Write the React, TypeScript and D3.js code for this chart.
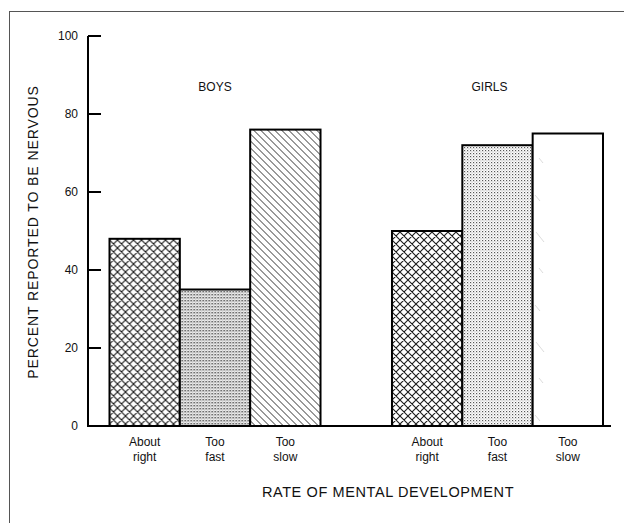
import React from "react";
import * as d3 from "d3";

const groups = ["BOYS", "GIRLS"];
const categories = ["About right", "Too fast", "Too slow"];
const categoryLines = [["About", "right"], ["Too", "fast"], ["Too", "slow"]];
const boysValues = [48, 35, 76];
const girlsValues = [50, 72, 75];
const yTicks = [0, 20, 40, 60, 80, 100];
const yLabel = "PERCENT REPORTED TO BE NERVOUS";
const xLabel = "RATE OF MENTAL DEVELOPMENT";

const W = 624;
const H = 523;

export default function App() {
  const y = d3.scaleLinear().domain([0, 100]).range([426, 36]);
  const xGroup = d3
    .scaleBand<string>()
    .domain(groups)
    .range([109.5, 603])
    .paddingInner(0.253)
    .paddingOuter(0);
  const xCat = d3
    .scaleBand<string>()
    .domain(categories)
    .range([0, xGroup.bandwidth()])
    .padding(0);
  const series = [boysValues, girlsValues];
  const fills = [
    ["url(#cross)", "url(#dots)", "url(#diag)"],
    ["url(#cross)", "url(#dots2)", "url(#faint)"],
  ];
  const groupLabelShift = [0, -8];
  const font = "'Liberation Sans', Arial, Helvetica, sans-serif";
  const axisX = 88;
  const y0 = y(0);

  return (
    <svg
      width={W}
      height={H}
      style={{ position: "absolute", left: 0, top: 0, background: "#fff" }}
      fontFamily={font}
    >
      <defs>
        <pattern id="cross" width="8" height="8" patternUnits="userSpaceOnUse">
          <rect width="8" height="8" fill="#fff" />
          <path d="M0,0 L8,8 M8,0 L0,8 M-1,7 L1,9 M7,-1 L9,1" stroke="#1a1a1a" strokeWidth="1.1" />
        </pattern>
        <pattern id="dots" width="3" height="3" patternUnits="userSpaceOnUse">
          <rect width="3" height="3" fill="#fff" />
          <rect x="0" y="0" width="1.4" height="1.4" fill="#333" />
          <rect x="1.5" y="1.5" width="1.1" height="1.1" fill="#777" />
        </pattern>
        <pattern id="dots2" width="3" height="3" patternUnits="userSpaceOnUse">
          <rect width="3" height="3" fill="#fff" />
          <rect x="0" y="0" width="1.2" height="1.2" fill="#555" />
          <rect x="1.5" y="1.5" width="1" height="1" fill="#999" />
        </pattern>
        <pattern id="diag" width="7" height="7" patternUnits="userSpaceOnUse">
          <rect width="7" height="7" fill="#fff" />
          <path d="M0,0 L7,7 M-1,6 L1,8 M6,-1 L8,1" stroke="#333" strokeWidth="1" />
        </pattern>
        <pattern id="faint" width="70" height="110" patternUnits="userSpaceOnUse">
          <rect width="70" height="110" fill="#fff" />
          <path d="M4,12 L12,22 M7,48 L11,53 M3,85 L8,91" stroke="#ccc" strokeWidth="0.7" />
        </pattern>
      </defs>

      {/* frame */}
      <rect x={9.5} y={11.5} width={700} height={600} fill="none" stroke="#555" strokeWidth={1} />

      {/* y axis */}
      <line x1={axisX} x2={axisX} y1={y(100)} y2={y0} stroke="#000" strokeWidth={2} />
      {yTicks.map((t) => (
        <g key={t}>
          {t > 0 && (
            <line x1={axisX} x2={axisX + 13} y1={y(t)} y2={y(t)} stroke="#000" strokeWidth={2} />
          )}
          <text
            x={axisX - 10}
            y={y(t)}
            dy="0.35em"
            textAnchor="end"
            fontSize={12}
            fill="#111"
          >
            {t}
          </text>
        </g>
      ))}

      {/* bars */}
      {groups.map((g, gi) => (
        <g key={g} transform={`translate(${xGroup(g)},0)`}>
          {categories.map((c, ci) => (
            <rect
              key={c}
              x={xCat(c)}
              y={y(series[gi][ci])}
              width={xCat.bandwidth()}
              height={y0 - y(series[gi][ci])}
              fill={fills[gi][ci]}
              stroke="#000"
              strokeWidth={2}
            />
          ))}
          <text
            x={xGroup.bandwidth() / 2 + groupLabelShift[gi]}
            y={91}
            textAnchor="middle"
            fontSize={12}
            fill="#111"
          >
            {g}
          </text>
          {categories.map((c, ci) => {
            const cx = (xCat(c) as number) + xCat.bandwidth() / 2;
            return (
              <text
                key={c + "l"}
                x={cx}
                y={446}
                textAnchor="middle"
                fontSize={12}
                fill="#111"
              >
                <tspan x={cx}>{categoryLines[ci][0]}</tspan>
                <tspan x={cx} dy={15}>
                  {categoryLines[ci][1]}
                </tspan>
              </text>
            );
          })}
        </g>
      ))}

      {/* baseline */}
      <line x1={axisX - 1} x2={611} y1={y0} y2={y0} stroke="#000" strokeWidth={2} />

      {/* axis titles */}
      <text
        transform={`translate(38,232) rotate(-90)`}
        textAnchor="middle"
        fontSize={14}
        letterSpacing={0.9}
        fill="#111"
      >
        {yLabel}
      </text>
      <text
        x={388}
        y={497}
        textAnchor="middle"
        fontSize={14.5}
        letterSpacing={0.6}
        fill="#111"
      >
        {xLabel}
      </text>
    </svg>
  );
}
